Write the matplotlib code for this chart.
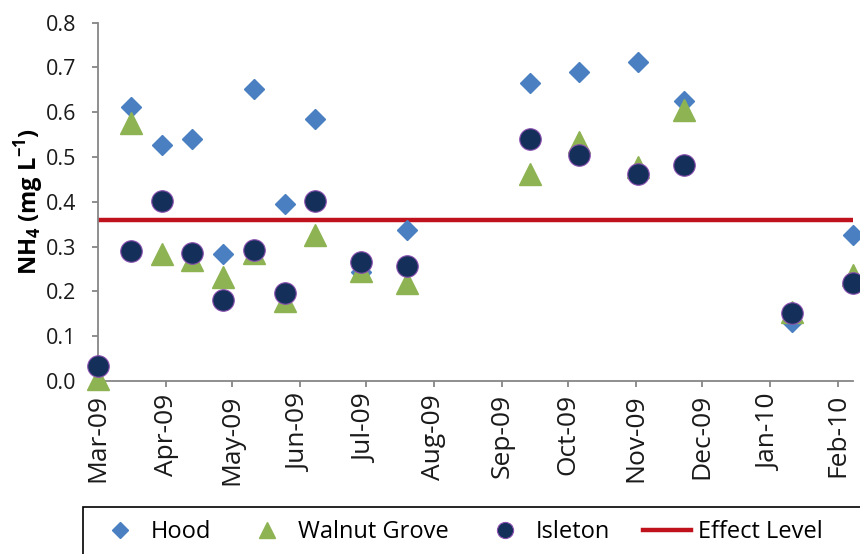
import matplotlib
matplotlib.use("Agg")
import matplotlib.pyplot as plt
import matplotlib.dates as mdates
import numpy as np
import pandas as pd
from matplotlib.patches import Rectangle

plt.rcParams['font.family'] = ['Open Sans', 'DejaVu Sans']
plt.rcParams['mathtext.fontset'] = 'custom'
plt.rcParams['mathtext.rm'] = 'Open Sans'
plt.rcParams['mathtext.bf'] = 'Open Sans:bold'

# ---- data ----
dates = pd.to_datetime([
    '2009-03-01', '2009-03-16', '2009-03-30', '2009-04-13', '2009-04-27',
    '2009-05-11', '2009-05-25', '2009-06-08', '2009-06-29', '2009-07-20',
    '2009-09-14', '2009-10-06', '2009-11-02', '2009-11-23', '2010-01-11',
    '2010-02-08'])
hood = [0.03, 0.611, 0.527, 0.540, 0.283, 0.651, 0.395, 0.586, 0.244, 0.337,
        0.666, 0.689, 0.712, 0.625, 0.132, 0.327]
walnut_grove = [0.005, 0.576, 0.283, 0.271, 0.233, 0.286, 0.178, 0.325, 0.245, 0.218,
                0.463, 0.534, 0.478, 0.605, 0.155, 0.237]
isleton = [0.034, 0.291, 0.402, 0.285, 0.181, 0.292, 0.196, 0.402, 0.266, 0.257,
           0.540, 0.505, 0.462, 0.482, 0.151, 0.218]
effect_level = 0.36
x_start = pd.Timestamp('2009-03-01')
x_end = pd.Timestamp('2010-02-08')
y_ticks = [0.0, 0.1, 0.2, 0.3, 0.4, 0.5, 0.6, 0.7, 0.8]

W, H = 860, 554
fig = plt.figure(figsize=(W / 100, H / 100), dpi=100)
ax = fig.add_axes([98 / W, 1 - 381 / H, (853 - 98) / W, (381 - 22.7) / H])

axis_col = '#868686'
h_line = ax.axhline(effect_level, color='#c0121c', lw=3.2, zorder=2, label='Effect Level')
h1, = ax.plot(dates, hood, ls='none', marker='D', ms=10.5, color='#4a7fc1',
              mec='#4a7fc1', label='Hood', zorder=3, clip_on=False)
h2, = ax.plot(dates, walnut_grove, ls='none', marker='^', ms=15.5, color='#8db352',
              mec='#8db352', label='Walnut Grove', zorder=4, clip_on=False)
h3, = ax.plot(dates, isleton, ls='none', marker='o', ms=15.5, color='#14305a',
              mec='#8a4fb0', mew=0.8, label='Isleton', zorder=5, clip_on=False)

ax.set_xlim(x_start, x_end)
ax.set_ylim(0, 0.8)
ax.set_yticks(y_ticks)
ax.set_yticklabels([f'{v:.1f}' for v in y_ticks])
ax.xaxis.set_major_locator(mdates.MonthLocator())
ax.xaxis.set_major_formatter(mdates.DateFormatter('%b-%y'))

for s in ['top', 'right']:
    ax.spines[s].set_visible(False)
for s in ['left', 'bottom']:
    ax.spines[s].set_color(axis_col)
    ax.spines[s].set_linewidth(1.3)
ax.tick_params(axis='both', direction='out', length=4.5, width=1.3, color=axis_col,
               labelcolor='#1a1a1a')
ax.tick_params(axis='y', labelsize=15.5, pad=11)
ax.tick_params(axis='x', labelsize=19, labelrotation=90, pad=5)

ax.set_ylabel(r'$\mathbf{NH_4}$ (mg L$^{\mathbf{-1}}$)', fontsize=17, fontweight='bold',
              labelpad=0)

leg_top = 1 - 507 / H
leg = fig.legend(handles=[h1, h2, h3, h_line], loc='upper left',
                 bbox_to_anchor=(83 / W, leg_top), borderaxespad=0,
                 ncol=4, fontsize=17, frameon=False,
                 handlelength=2.0, handletextpad=0.3, columnspacing=1.4,
                 borderpad=0.55, markerscale=0.75)
# legend frame extends past the right and bottom edges of the image
fig.patches.append(Rectangle((83 / W, -0.2), 1.0, leg_top + 0.2,
                             transform=fig.transFigure, fill=False,
                             edgecolor='black', linewidth=1.2))

fig.savefig('out.png', dpi=100)
